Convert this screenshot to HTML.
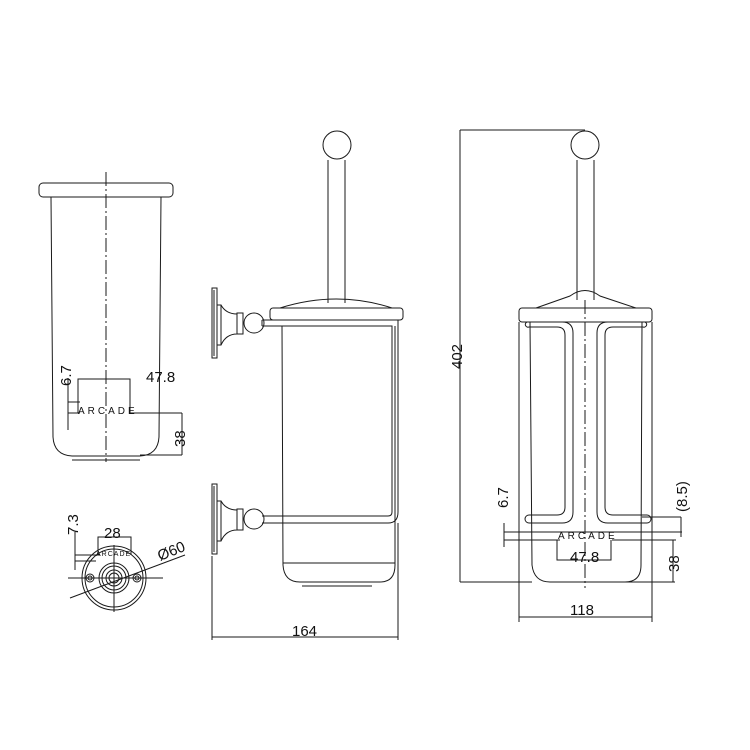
<!DOCTYPE html>
<html><head><meta charset="utf-8"><style>
html,body{margin:0;padding:0;background:#fff;}
svg{display:block;}
text{font-family:"Liberation Sans",sans-serif;fill:#111;}
</style></head><body>
<svg width="750" height="750" viewBox="0 0 750 750" xmlns="http://www.w3.org/2000/svg">
<g fill="none" stroke="#1a1a1a" stroke-width="1">
<!-- LEFT GLASS -->
<rect x="39" y="183" width="134" height="14" rx="4"/>
<path d="M51 197 L53 437 Q54 455 72 456 L140 456 Q158 455 159 437 L161 197"/>
<line x1="72" y1="460" x2="140" y2="460"/>
<line x1="106" y1="172" x2="106" y2="462" stroke-dasharray="14,3,2,3"/>
<path d="M78 413 L78 379 L130 379 L130 413 L182 413"/>
<line x1="140" y1="455" x2="182" y2="455"/>
<line x1="182" y1="413" x2="182" y2="455"/>
<line x1="68" y1="378" x2="68" y2="430"/>
<line x1="68" y1="402" x2="80" y2="402"/>
<line x1="68" y1="413" x2="80" y2="413"/>
<!-- SIDE VIEW -->
<circle cx="337" cy="145" r="14"/>
<path d="M328 160 L328 303 M345 160 L345 303"/>
<path d="M280 308 Q337 290 392 308"/>
<rect x="270" y="308" width="133" height="12" rx="3"/>
<path d="M282 326 L283 565 Q284 582 300 582 L380 582 Q395 582 395 565 L395 326"/>
<line x1="283" y1="563" x2="395" y2="563"/>
<line x1="302" y1="586" x2="372" y2="586"/>
<path d="M262 320 L398 320 L398 512 Q398 523 388 523 L262 523"/>
<path d="M262 326 L392 326 L392 512 Q392 516 388 516 L262 516"/>
<line x1="262" y1="320" x2="262" y2="326"/>
<g id="bracket">
<rect x="212" y="288" width="5" height="70"/>
<line x1="214" y1="290" x2="214" y2="356"/>
<rect x="217" y="305" width="4" height="40"/>
<path d="M221 305 Q226 314 237 314 L237 334 Q226 334 221 345"/>
<rect x="237" y="313" width="6" height="21"/>
<circle cx="254" cy="323" r="10"/>
</g>
<use href="#bracket" transform="translate(0,196)"/>
<path d="M212 556 L212 640 M398 523 L398 640 M212 637 L398 637"/>
<!-- FRONT VIEW -->
<circle cx="585" cy="145" r="14"/>
<path d="M577 160 L577 300 M594 160 L594 300"/>
<path d="M536 308 L570 296 Q585 285 600 296 L636 308"/>
<rect x="519" y="308" width="133" height="14" rx="3"/>
<path d="M530 322 L532 565 Q534 582 550 582 L625 582 Q641 582 641 565 L642 322"/>
<path d="M527 322 L562 322 Q573 322 573 333 L573 512 Q573 523 562 523 L529 523 A4 4 0 0 1 529 515 L557 515 Q565 515 565 507 L565 335 Q565 327 557 327 L529 327 A2.5 2.5 0 0 1 527 322"/>
<path d="M645 322 L608 322 Q597 322 597 333 L597 512 Q597 523 608 523 L647 523 A4 4 0 0 0 647 515 L613 515 Q605 515 605 507 L605 335 Q605 327 613 327 L643 327 A2.5 2.5 0 0 0 645 322"/>
<line x1="585" y1="300" x2="585" y2="588" stroke-dasharray="14,3,2,3"/>
<path d="M519 322 L519 622 M652 322 L652 622 M519 617 L652 617"/>
<path d="M460 130 L460 582 M460 130 L585 130 M460 582 L532 582"/>
<path d="M504 523 L504 547 M504 532 L682 532 M504 540 L560 540 M612 540 L676 540"/>
<path d="M557 540 L557 560 L611 560 L611 540"/>
<path d="M681 517 L681 537 M642 517 L681 517"/>
<path d="M673 540 L673 582 M620 582 L675 582"/>
<!-- ROSETTE -->
<circle cx="114" cy="578" r="32"/>
<circle cx="114" cy="578" r="29"/>
<circle cx="114" cy="578" r="15"/>
<circle cx="114" cy="578" r="12"/>
<circle cx="114" cy="578" r="8"/>
<circle cx="114" cy="578" r="5"/>
<circle cx="90" cy="578" r="4"/><circle cx="90" cy="578" r="2"/>
<circle cx="137" cy="578" r="4"/><circle cx="137" cy="578" r="2"/>
<path d="M68 578 L163 578 M114 545 L114 612"/>
<path d="M70 598 L185 555"/>
<path d="M98 555 L98 537 L131 537 L131 555"/>
<path d="M75 532 L75 570 M75 555 L100 555 M75 561 L96 561"/>
</g>
<g font-size="15">
<text x="146" y="382">47.8</text>
<text transform="translate(71,386) rotate(-90)">6.7</text>
<text transform="translate(185,447) rotate(-90)">38</text>
<text x="78" y="414" font-size="10" letter-spacing="3">ARCADE</text>
<text x="292" y="636">164</text>
<text transform="translate(462,369) rotate(-90)">402</text>
<text transform="translate(508,508) rotate(-90)">6.7</text>
<text transform="translate(687,512) rotate(-90)">(8.5)</text>
<text transform="translate(679,572) rotate(-90)">38</text>
<text x="570" y="562">47.8</text>
<text x="558" y="539" font-size="10" letter-spacing="3">ARCADE</text>
<text x="570" y="615">118</text>
<text x="104" y="538">28</text>
<text transform="translate(78,535) rotate(-90)">7.3</text>
<text transform="translate(160,561) rotate(-22)">Ø60</text>
<text x="96" y="556" font-size="7" letter-spacing="1">ARCADE</text>
</g>
</svg>
</body></html>
